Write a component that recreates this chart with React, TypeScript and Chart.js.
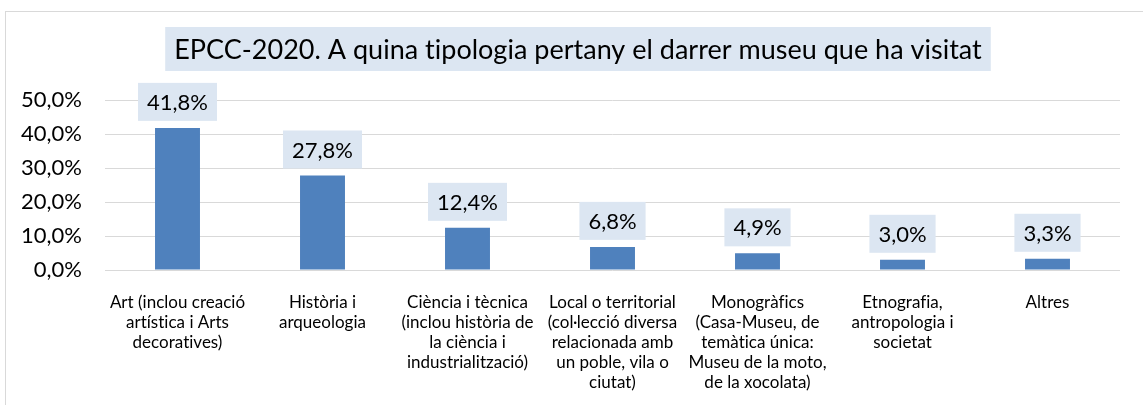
import React, { useEffect, useRef } from "react";
import { Chart, registerables } from "chart.js";

Chart.register(...registerables);

const titleText = "EPCC-2020. A quina tipologia pertany el darrer museu que ha visitat";

const categories: string[][] = [
  ["Art (inclou creació", "artística i Arts", "decoratives)"],
  ["Història i", "arqueologia"],
  ["Ciència i tècnica", "(inclou història de", "la ciència i", "industrialització)"],
  ["Local o territorial", "(col·lecció diversa", "relacionada amb", "un poble, vila o", "ciutat)"],
  ["Monogràfics", "(Casa-Museu, de", "temàtica única:", "Museu de la moto,", "de la xocolata)"],
  ["Etnografia,", "antropologia i", "societat"],
  ["Altres"],
];

const values: number[] = [41.8, 27.8, 12.4, 6.8, 4.9, 3.0, 3.3];

const yTicks: number[] = [0, 10, 20, 30, 40, 50];

const FONT = "Lato, Carlito, 'Open Sans', sans-serif";
const fmt = (v: number) => v.toFixed(1).replace(".", ",") + "%";

const decorPlugin = {
  id: "decor",
  beforeDraw(chart: any) {
    const ctx = chart.ctx;
    // non-zero letter spacing disables optional ligatures (e.g. "ti")
    try {
      (ctx as any).letterSpacing = "0.01px";
    } catch (e) {}
    ctx.save();
    ctx.fillStyle = "#ffffff";
    ctx.fillRect(0, 0, chart.width, chart.height);
    ctx.strokeStyle = "#D9D9D9";
    ctx.lineWidth = 1;
    ctx.strokeRect(5.5, 11.5, 1150, 420);
    ctx.restore();
  },
  afterDraw(chart: any) {
    const ctx = chart.ctx;
    ctx.save();
    (ctx as any).letterSpacing = "0.01px";
    // title
    ctx.font = `27px ${FONT}`;
    const tw = ctx.measureText(titleText).width;
    const cx = 578;
    const bw = tw + 18;
    ctx.fillStyle = "#DCE6F2";
    ctx.fillRect(cx - bw / 2, 27, bw, 44);
    ctx.fillStyle = "#000000";
    ctx.textAlign = "center";
    ctx.textBaseline = "middle";
    ctx.fillText(titleText, cx, 50);
    // data labels
    ctx.font = `22px ${FONT}`;
    const meta = chart.getDatasetMeta(0);
    meta.data.forEach((el: any, i: number) => {
      const txt = fmt(values[i]);
      const w = ctx.measureText(txt).width + 18;
      const h = 38;
      const bottom = el.y - 7;
      ctx.fillStyle = "#DCE6F2";
      ctx.fillRect(el.x - w / 2, bottom - h, w, h);
      ctx.fillStyle = "#000000";
      ctx.fillText(txt, el.x, bottom - h / 2 + 1);
    });
    ctx.restore();
  },
};

export default function App() {
  const ref = useRef<HTMLCanvasElement | null>(null);
  useEffect(() => {
    if (!ref.current) return;
    const chart = new Chart(ref.current, {
      type: "bar",
      data: {
        labels: categories,
        datasets: [
          {
            data: values,
            backgroundColor: "#4F81BD",
            borderWidth: 0,
            barPercentage: 0.31,
            categoryPercentage: 1,
          },
        ],
      },
      options: {
        animation: false,
        responsive: false,
        devicePixelRatio: 1,
        layout: { padding: { left: 0, right: 23, top: 100, bottom: 0 } },
        plugins: {
          legend: { display: false },
          title: { display: false },
          tooltip: { enabled: false },
        },
        scales: {
          x: {
            grid: { display: false },
            border: { display: false },
            ticks: {
              color: "#000000",
              font: { family: FONT, size: 17, lineHeight: 20 / 17 },
              maxRotation: 0,
              autoSkip: false,
              padding: 15,
            },
            afterFit: (s: any) => {
              s.height = 135;
            },
          },
          y: {
            min: 0,
            max: 50,
            afterBuildTicks: (s: any) => {
              s.ticks = yTicks.map((v) => ({ value: v }));
            },
            grid: { color: "#D9D9D9", lineWidth: 1, drawTicks: false },
            border: { display: false },
            ticks: {
              color: "#000000",
              font: { family: FONT, size: 22 },
              padding: 23,
              callback: (v: any) => fmt(Number(v)),
            },
            afterFit: (s: any) => {
              s.width = 105;
            },
          },
        },
      },
      plugins: [decorPlugin],
    });
    return () => chart.destroy();
  }, []);
  return (
    <div style={{ position: "absolute", left: 0, top: 0, width: 1143, height: 405, background: "#fff" }}>
      <canvas ref={ref} width={1143} height={405} style={{ display: "block" }} />
    </div>
  );
}
